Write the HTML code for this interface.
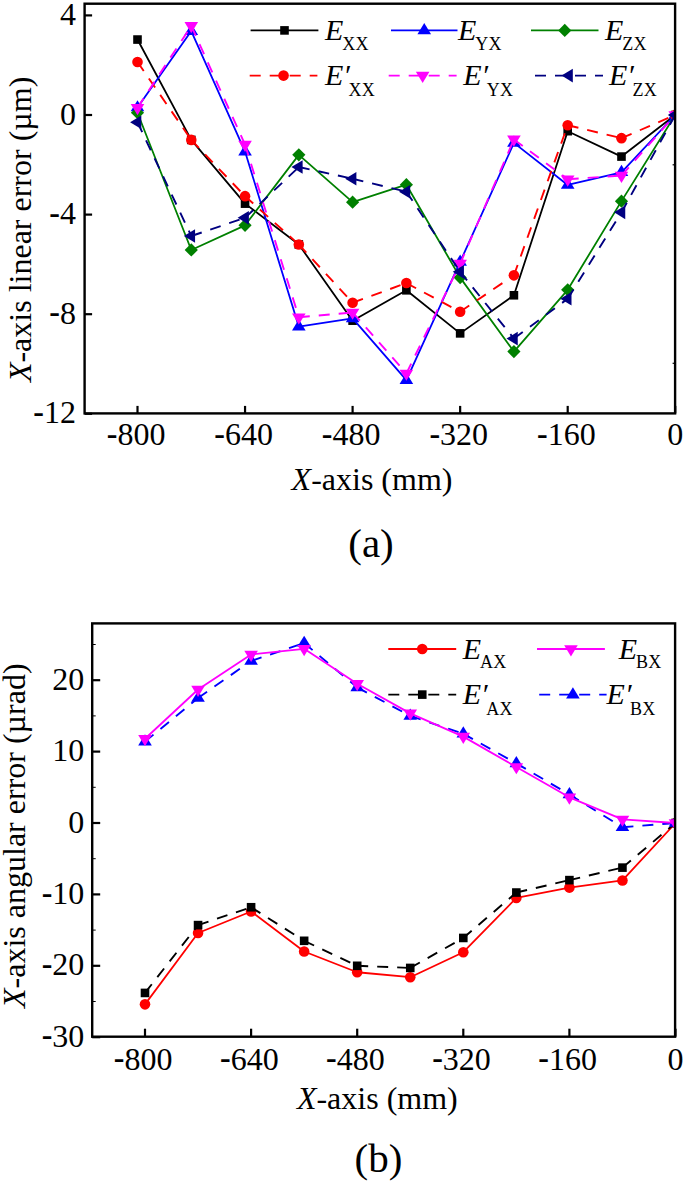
<!DOCTYPE html>
<html><head><meta charset="utf-8"><style>
html,body{margin:0;padding:0;background:#fff;overflow:hidden;}
svg{display:block;}
text{font-family:'Liberation Serif', serif;fill:#000;}
</style></head><body>
<svg width="685" height="1185" viewBox="0 0 685 1185">
<rect width="685" height="1185" fill="#fff"/>
<clipPath id="c1"><rect x="84.6" y="3.7" width="590.5" height="409.7"/></clipPath><g clip-path="url(#c1)">
<polyline points="137.5,39.55 191.28,139.9 245.05,203.64 298.82,244.48 352.6,320.67 406.38,290.3 460.15,333.37 513.92,295.28 567.7,131.19 621.48,156.58 675.25,115" fill="none" stroke="#000000" stroke-width="1.8" stroke-linejoin="round"/>
<rect x="133.2" y="35.25" width="8.6" height="8.6" fill="#000000"/>
<rect x="186.97" y="135.6" width="8.6" height="8.6" fill="#000000"/>
<rect x="240.75" y="199.34" width="8.6" height="8.6" fill="#000000"/>
<rect x="294.52" y="240.18" width="8.6" height="8.6" fill="#000000"/>
<rect x="348.3" y="316.37" width="8.6" height="8.6" fill="#000000"/>
<rect x="402.07" y="286" width="8.6" height="8.6" fill="#000000"/>
<rect x="455.85" y="329.07" width="8.6" height="8.6" fill="#000000"/>
<rect x="509.62" y="290.98" width="8.6" height="8.6" fill="#000000"/>
<rect x="563.4" y="126.89" width="8.6" height="8.6" fill="#000000"/>
<rect x="617.18" y="152.28" width="8.6" height="8.6" fill="#000000"/>
<rect x="670.95" y="110.7" width="8.6" height="8.6" fill="#000000"/>
<polyline points="137.5,107.53 191.28,31.09 245.05,151.6 298.82,326.65 352.6,318.43 406.38,380.19 460.15,261.91 513.92,142.89 567.7,184.97 621.48,172.27 675.25,115" fill="none" stroke="#0000ff" stroke-width="1.8" stroke-linejoin="round"/>
<path d="M137.5 100.13L144.3 111.33L130.7 111.33Z" fill="#0000ff"/>
<path d="M191.28 23.69L198.08 34.89L184.47 34.89Z" fill="#0000ff"/>
<path d="M245.05 144.2L251.85 155.4L238.25 155.4Z" fill="#0000ff"/>
<path d="M298.82 319.25L305.62 330.45L292.02 330.45Z" fill="#0000ff"/>
<path d="M352.6 311.03L359.4 322.23L345.8 322.23Z" fill="#0000ff"/>
<path d="M406.38 372.79L413.18 383.99L399.57 383.99Z" fill="#0000ff"/>
<path d="M460.15 254.51L466.95 265.71L453.35 265.71Z" fill="#0000ff"/>
<path d="M513.92 135.49L520.72 146.69L507.12 146.69Z" fill="#0000ff"/>
<path d="M567.7 177.57L574.5 188.77L560.9 188.77Z" fill="#0000ff"/>
<path d="M621.48 164.87L628.27 176.07L614.68 176.07Z" fill="#0000ff"/>
<path d="M675.25 107.6L682.05 118.8L668.45 118.8Z" fill="#0000ff"/>
<polyline points="137.5,112.76 191.28,249.96 245.05,225.31 298.82,154.84 352.6,202.15 406.38,184.72 460.15,277.6 513.92,351.55 567.7,289.8 621.48,201.15 675.25,115" fill="none" stroke="#008000" stroke-width="1.8" stroke-linejoin="round"/>
<path d="M137.5 106.16L144.1 112.76L137.5 119.36L130.9 112.76Z" fill="#008000"/>
<path d="M191.28 243.36L197.88 249.96L191.28 256.56L184.68 249.96Z" fill="#008000"/>
<path d="M245.05 218.71L251.65 225.31L245.05 231.91L238.45 225.31Z" fill="#008000"/>
<path d="M298.82 148.24L305.43 154.84L298.82 161.44L292.22 154.84Z" fill="#008000"/>
<path d="M352.6 195.55L359.2 202.15L352.6 208.75L346 202.15Z" fill="#008000"/>
<path d="M406.38 178.12L412.98 184.72L406.38 191.32L399.77 184.72Z" fill="#008000"/>
<path d="M460.15 271L466.75 277.6L460.15 284.2L453.55 277.6Z" fill="#008000"/>
<path d="M513.92 344.95L520.52 351.55L513.92 358.15L507.32 351.55Z" fill="#008000"/>
<path d="M567.7 283.2L574.3 289.8L567.7 296.4L561.1 289.8Z" fill="#008000"/>
<path d="M621.48 194.55L628.08 201.15L621.48 207.75L614.88 201.15Z" fill="#008000"/>
<path d="M675.25 108.4L681.85 115L675.25 121.6L668.65 115Z" fill="#008000"/>
<path d="M137.5 61.96L191.28 139.9M191.28 139.9L245.05 196.17M245.05 196.17L298.82 244.48M298.82 244.48L352.6 302.75M352.6 302.75L406.38 283.07M406.38 283.07L460.15 311.71M460.15 311.71L513.92 275.36M513.92 275.36L567.7 125.21M567.7 125.21L621.48 138.16M621.48 138.16L675.25 115" fill="none" stroke="#ff0000" stroke-width="1.9" stroke-dasharray="11 9"/>
<circle cx="137.5" cy="61.96" r="5.3" fill="#ff0000"/>
<circle cx="191.28" cy="139.9" r="5.3" fill="#ff0000"/>
<circle cx="245.05" cy="196.17" r="5.3" fill="#ff0000"/>
<circle cx="298.82" cy="244.48" r="5.3" fill="#ff0000"/>
<circle cx="352.6" cy="302.75" r="5.3" fill="#ff0000"/>
<circle cx="406.38" cy="283.07" r="5.3" fill="#ff0000"/>
<circle cx="460.15" cy="311.71" r="5.3" fill="#ff0000"/>
<circle cx="513.92" cy="275.36" r="5.3" fill="#ff0000"/>
<circle cx="567.7" cy="125.21" r="5.3" fill="#ff0000"/>
<circle cx="621.48" cy="138.16" r="5.3" fill="#ff0000"/>
<circle cx="675.25" cy="115" r="5.3" fill="#ff0000"/>
<path d="M137.5 107.78L191.28 25.86M191.28 25.86L245.05 144.63M245.05 144.63L298.82 317.19M298.82 317.19L352.6 312.46M352.6 312.46L406.38 373.46M406.38 373.46L460.15 263.65M460.15 263.65L513.92 139.4M513.92 139.4L567.7 179.24M567.7 179.24L621.48 175.51M621.48 175.51L675.25 115" fill="none" stroke="#ff00ff" stroke-width="1.9" stroke-dasharray="11 9"/>
<path d="M137.5 115.18L144.3 103.98L130.7 103.98Z" fill="#ff00ff"/>
<path d="M191.28 33.26L198.08 22.06L184.47 22.06Z" fill="#ff00ff"/>
<path d="M245.05 152.03L251.85 140.83L238.25 140.83Z" fill="#ff00ff"/>
<path d="M298.82 324.59L305.62 313.39L292.02 313.39Z" fill="#ff00ff"/>
<path d="M352.6 319.86L359.4 308.66L345.8 308.66Z" fill="#ff00ff"/>
<path d="M406.38 380.86L413.18 369.66L399.57 369.66Z" fill="#ff00ff"/>
<path d="M460.15 271.05L466.95 259.85L453.35 259.85Z" fill="#ff00ff"/>
<path d="M513.92 146.8L520.72 135.6L507.12 135.6Z" fill="#ff00ff"/>
<path d="M567.7 186.64L574.5 175.44L560.9 175.44Z" fill="#ff00ff"/>
<path d="M621.48 182.91L628.27 171.71L614.68 171.71Z" fill="#ff00ff"/>
<path d="M675.25 122.4L682.05 111.2L668.45 111.2Z" fill="#ff00ff"/>
<path d="M137.5 122.22L191.28 236.01M191.28 236.01L245.05 217.84M245.05 217.84L298.82 167.04M298.82 167.04L352.6 178.74M352.6 178.74L406.38 191.69M406.38 191.69L460.15 271.87M460.15 271.87L513.92 338.6M513.92 338.6L567.7 298.76M567.7 298.76L621.48 212.36M621.48 212.36L675.25 115" fill="none" stroke="#000080" stroke-width="1.9" stroke-dasharray="11 9"/>
<path d="M130.1 122.22L141.3 115.42L141.3 129.02Z" fill="#000080"/>
<path d="M183.88 236.01L195.08 229.21L195.08 242.81Z" fill="#000080"/>
<path d="M237.65 217.84L248.85 211.04L248.85 224.64Z" fill="#000080"/>
<path d="M291.43 167.04L302.62 160.24L302.62 173.84Z" fill="#000080"/>
<path d="M345.2 178.74L356.4 171.94L356.4 185.54Z" fill="#000080"/>
<path d="M398.98 191.69L410.18 184.89L410.18 198.49Z" fill="#000080"/>
<path d="M452.75 271.87L463.95 265.07L463.95 278.67Z" fill="#000080"/>
<path d="M506.52 338.6L517.72 331.8L517.72 345.4Z" fill="#000080"/>
<path d="M560.3 298.76L571.5 291.96L571.5 305.56Z" fill="#000080"/>
<path d="M614.08 212.36L625.27 205.56L625.27 219.16Z" fill="#000080"/>
<path d="M667.85 115L679.05 108.2L679.05 121.8Z" fill="#000080"/>
</g>
<rect x="84.6" y="3.7" width="590.5" height="409.7" fill="none" stroke="#000" stroke-width="2.4"/>
<line x1="84.6" y1="15.4" x2="92.1" y2="15.4" stroke="#000" stroke-width="2.2"/>
<text x="76" y="25" font-size="32" text-anchor="end">4</text>
<line x1="84.6" y1="115" x2="92.1" y2="115" stroke="#000" stroke-width="2.2"/>
<text x="76" y="124.6" font-size="32" text-anchor="end">0</text>
<line x1="84.6" y1="214.6" x2="92.1" y2="214.6" stroke="#000" stroke-width="2.2"/>
<text x="76" y="224.2" font-size="32" text-anchor="end"><tspan font-weight="bold" dy="-1.4">-</tspan><tspan dy="1.4">4</tspan></text>
<line x1="84.6" y1="314.2" x2="92.1" y2="314.2" stroke="#000" stroke-width="2.2"/>
<text x="76" y="323.8" font-size="32" text-anchor="end"><tspan font-weight="bold" dy="-1.4">-</tspan><tspan dy="1.4">8</tspan></text>
<line x1="84.6" y1="413.8" x2="92.1" y2="413.8" stroke="#000" stroke-width="2.2"/>
<text x="76" y="423.4" font-size="32" text-anchor="end"><tspan font-weight="bold" dy="-1.4">-</tspan><tspan dy="1.4">12</tspan></text>
<line x1="137.5" y1="413.4" x2="137.5" y2="405.9" stroke="#000" stroke-width="2.2"/>
<text x="136.1" y="445" font-size="32" text-anchor="middle"><tspan font-weight="bold" dy="-1.4">-</tspan><tspan dy="1.4">800</tspan></text>
<line x1="245.05" y1="413.4" x2="245.05" y2="405.9" stroke="#000" stroke-width="2.2"/>
<text x="243.65" y="445" font-size="32" text-anchor="middle"><tspan font-weight="bold" dy="-1.4">-</tspan><tspan dy="1.4">640</tspan></text>
<line x1="352.6" y1="413.4" x2="352.6" y2="405.9" stroke="#000" stroke-width="2.2"/>
<text x="351.2" y="445" font-size="32" text-anchor="middle"><tspan font-weight="bold" dy="-1.4">-</tspan><tspan dy="1.4">480</tspan></text>
<line x1="460.15" y1="413.4" x2="460.15" y2="405.9" stroke="#000" stroke-width="2.2"/>
<text x="458.75" y="445" font-size="32" text-anchor="middle"><tspan font-weight="bold" dy="-1.4">-</tspan><tspan dy="1.4">320</tspan></text>
<line x1="567.7" y1="413.4" x2="567.7" y2="405.9" stroke="#000" stroke-width="2.2"/>
<text x="566.3" y="445" font-size="32" text-anchor="middle"><tspan font-weight="bold" dy="-1.4">-</tspan><tspan dy="1.4">160</tspan></text>
<line x1="675.25" y1="413.4" x2="675.25" y2="405.9" stroke="#000" stroke-width="2.2"/>
<text x="675.25" y="445" font-size="32" text-anchor="middle">0</text>
<line x1="675.1" y1="164.8" x2="672.6" y2="164.8" stroke="#000" stroke-width="1.2"/>
<line x1="675.1" y1="363.3" x2="672.6" y2="363.3" stroke="#000" stroke-width="1.2"/>
<text x="372" y="490" font-size="32" text-anchor="middle"><tspan font-style="italic">X</tspan>-axis (mm)</text>
<text x="371" y="556.5" font-size="41" text-anchor="middle">(a)</text>
<text transform="translate(30.8,229.4) rotate(-90)" font-size="32" text-anchor="middle"><tspan font-style="italic">X</tspan>-axis linear error (µm)</text>
<line x1="250.6" y1="30.4" x2="318.4" y2="30.4" stroke="#000000" stroke-width="1.8"/>
<rect x="280.2" y="26.1" width="8.6" height="8.6" fill="#000000"/>
<text x="325" y="39.9" font-size="30" font-style="italic">E</text>
<text x="342.2" y="49.7" font-size="18" letter-spacing="0.3">XX</text>
<line x1="391" y1="30.4" x2="457.5" y2="30.4" stroke="#0000ff" stroke-width="1.8"/>
<path d="M424.25 23L431.05 34.2L417.45 34.2Z" fill="#0000ff"/>
<text x="458" y="39.9" font-size="30" font-style="italic">E</text>
<text x="475.2" y="49.7" font-size="18" letter-spacing="0.3">YX</text>
<line x1="531" y1="30.4" x2="598.5" y2="30.4" stroke="#008000" stroke-width="1.8"/>
<path d="M564.75 23.8L571.35 30.4L564.75 37L558.15 30.4Z" fill="#008000"/>
<text x="605" y="39.9" font-size="30" font-style="italic">E</text>
<text x="622.2" y="49.7" font-size="18" letter-spacing="0.3">ZX</text>
<line x1="249.7" y1="75.6" x2="317.4" y2="75.6" stroke="#ff0000" stroke-width="1.9" stroke-dasharray="11 9"/>
<circle cx="283.55" cy="75.6" r="5.3" fill="#ff0000"/>
<text x="325" y="85.1" font-size="30" font-style="italic">E′</text>
<text x="348.4" y="95.9" font-size="18" letter-spacing="0.3">XX</text>
<line x1="388.7" y1="75.6" x2="456.6" y2="75.6" stroke="#ff00ff" stroke-width="1.9" stroke-dasharray="11 9"/>
<path d="M422.65 83L429.45 71.8L415.85 71.8Z" fill="#ff00ff"/>
<text x="463.3" y="85.1" font-size="30" font-style="italic">E′</text>
<text x="486.7" y="95.9" font-size="18" letter-spacing="0.3">YX</text>
<line x1="535" y1="75.6" x2="603" y2="75.6" stroke="#000080" stroke-width="1.9" stroke-dasharray="11 9"/>
<path d="M561.6 75.6L572.8 68.8L572.8 82.4Z" fill="#000080"/>
<text x="609" y="85.1" font-size="30" font-style="italic">E′</text>
<text x="632.4" y="95.9" font-size="18" letter-spacing="0.3">ZX</text>
<clipPath id="c2"><rect x="92.2" y="623.4" width="582.9" height="413.3"/></clipPath><g clip-path="url(#c2)">
<polyline points="145,1004.36 198.05,932.96 251.1,911.54 304.15,951.52 357.2,972.23 410.25,977.22 463.3,952.23 516.35,897.97 569.4,887.62 622.45,880.48 675.5,823" fill="none" stroke="#ff0000" stroke-width="1.8" stroke-linejoin="round"/>
<circle cx="145" cy="1004.36" r="5.3" fill="#ff0000"/>
<circle cx="198.05" cy="932.96" r="5.3" fill="#ff0000"/>
<circle cx="251.1" cy="911.54" r="5.3" fill="#ff0000"/>
<circle cx="304.15" cy="951.52" r="5.3" fill="#ff0000"/>
<circle cx="357.2" cy="972.23" r="5.3" fill="#ff0000"/>
<circle cx="410.25" cy="977.22" r="5.3" fill="#ff0000"/>
<circle cx="463.3" cy="952.23" r="5.3" fill="#ff0000"/>
<circle cx="516.35" cy="897.97" r="5.3" fill="#ff0000"/>
<circle cx="569.4" cy="887.62" r="5.3" fill="#ff0000"/>
<circle cx="622.45" cy="880.48" r="5.3" fill="#ff0000"/>
<circle cx="675.5" cy="823" r="5.3" fill="#ff0000"/>
<path d="M145 992.93L198.05 925.1M198.05 925.1L251.1 907.25M251.1 907.25L304.15 940.81M304.15 940.81L357.2 965.8M357.2 965.8L410.25 967.94M410.25 967.94L463.3 937.95M463.3 937.95L516.35 892.54M516.35 892.54L569.4 880.12M569.4 880.12L622.45 867.62M622.45 867.62L675.5 823" fill="none" stroke="#000000" stroke-width="1.9" stroke-dasharray="11 9"/>
<rect x="140.7" y="988.63" width="8.6" height="8.6" fill="#000000"/>
<rect x="193.75" y="920.8" width="8.6" height="8.6" fill="#000000"/>
<rect x="246.8" y="902.95" width="8.6" height="8.6" fill="#000000"/>
<rect x="299.85" y="936.51" width="8.6" height="8.6" fill="#000000"/>
<rect x="352.9" y="961.5" width="8.6" height="8.6" fill="#000000"/>
<rect x="405.95" y="963.64" width="8.6" height="8.6" fill="#000000"/>
<rect x="459" y="933.65" width="8.6" height="8.6" fill="#000000"/>
<rect x="512.05" y="888.24" width="8.6" height="8.6" fill="#000000"/>
<rect x="565.1" y="875.82" width="8.6" height="8.6" fill="#000000"/>
<rect x="618.15" y="863.33" width="8.6" height="8.6" fill="#000000"/>
<rect x="671.2" y="818.7" width="8.6" height="8.6" fill="#000000"/>
<path d="M145 741.6L198.05 698.05M198.05 698.05L251.1 660.92M251.1 660.92L304.15 643.07M304.15 643.07L357.2 687.34M357.2 687.34L410.25 715.9M410.25 715.9L463.3 733.75M463.3 733.75L516.35 763.38M516.35 763.38L569.4 794.44M569.4 794.44L622.45 827.28M622.45 827.28L675.5 823" fill="none" stroke="#0000ff" stroke-width="1.9" stroke-dasharray="11 9"/>
<path d="M145 734.2L151.8 745.4L138.2 745.4Z" fill="#0000ff"/>
<path d="M198.05 690.65L204.85 701.85L191.25 701.85Z" fill="#0000ff"/>
<path d="M251.1 653.52L257.9 664.72L244.3 664.72Z" fill="#0000ff"/>
<path d="M304.15 635.67L310.95 646.87L297.35 646.87Z" fill="#0000ff"/>
<path d="M357.2 679.94L364 691.14L350.4 691.14Z" fill="#0000ff"/>
<path d="M410.25 708.5L417.05 719.7L403.45 719.7Z" fill="#0000ff"/>
<path d="M463.3 726.35L470.1 737.55L456.5 737.55Z" fill="#0000ff"/>
<path d="M516.35 755.98L523.15 767.18L509.55 767.18Z" fill="#0000ff"/>
<path d="M569.4 787.04L576.2 798.24L562.6 798.24Z" fill="#0000ff"/>
<path d="M622.45 819.88L629.25 831.08L615.65 831.08Z" fill="#0000ff"/>
<path d="M675.5 815.6L682.3 826.8L668.7 826.8Z" fill="#0000ff"/>
<polyline points="145,738.75 198.05,689.48 251.1,654.5 304.15,648.78 357.2,683.77 410.25,713.4 463.3,736.61 516.35,766.95 569.4,797.3 622.45,819.43 675.5,823" fill="none" stroke="#ff00ff" stroke-width="1.8" stroke-linejoin="round"/>
<path d="M145 746.15L151.8 734.95L138.2 734.95Z" fill="#ff00ff"/>
<path d="M198.05 696.88L204.85 685.68L191.25 685.68Z" fill="#ff00ff"/>
<path d="M251.1 661.9L257.9 650.7L244.3 650.7Z" fill="#ff00ff"/>
<path d="M304.15 656.18L310.95 644.98L297.35 644.98Z" fill="#ff00ff"/>
<path d="M357.2 691.17L364 679.97L350.4 679.97Z" fill="#ff00ff"/>
<path d="M410.25 720.8L417.05 709.6L403.45 709.6Z" fill="#ff00ff"/>
<path d="M463.3 744.01L470.1 732.81L456.5 732.81Z" fill="#ff00ff"/>
<path d="M516.35 774.35L523.15 763.15L509.55 763.15Z" fill="#ff00ff"/>
<path d="M569.4 804.7L576.2 793.5L562.6 793.5Z" fill="#ff00ff"/>
<path d="M622.45 826.83L629.25 815.63L615.65 815.63Z" fill="#ff00ff"/>
<path d="M675.5 830.4L682.3 819.2L668.7 819.2Z" fill="#ff00ff"/>
</g>
<rect x="92.2" y="623.4" width="582.9" height="413.3" fill="none" stroke="#000" stroke-width="2.4"/>
<line x1="92.2" y1="680.2" x2="100.2" y2="680.2" stroke="#000" stroke-width="2.2"/>
<text x="84.3" y="689.8" font-size="32" text-anchor="end">20</text>
<line x1="92.2" y1="751.6" x2="100.2" y2="751.6" stroke="#000" stroke-width="2.2"/>
<text x="84.3" y="761.2" font-size="32" text-anchor="end">10</text>
<line x1="92.2" y1="823" x2="100.2" y2="823" stroke="#000" stroke-width="2.2"/>
<text x="84.3" y="832.6" font-size="32" text-anchor="end">0</text>
<line x1="92.2" y1="894.4" x2="100.2" y2="894.4" stroke="#000" stroke-width="2.2"/>
<text x="84.3" y="904" font-size="32" text-anchor="end"><tspan font-weight="bold" dy="-1.4">-</tspan><tspan dy="1.4">10</tspan></text>
<line x1="92.2" y1="965.8" x2="100.2" y2="965.8" stroke="#000" stroke-width="2.2"/>
<text x="84.3" y="975.4" font-size="32" text-anchor="end"><tspan font-weight="bold" dy="-1.4">-</tspan><tspan dy="1.4">20</tspan></text>
<line x1="92.2" y1="1037.2" x2="100.2" y2="1037.2" stroke="#000" stroke-width="2.2"/>
<text x="84.3" y="1046.8" font-size="32" text-anchor="end"><tspan font-weight="bold" dy="-1.4">-</tspan><tspan dy="1.4">30</tspan></text>
<line x1="92.2" y1="644.5" x2="95.7" y2="644.5" stroke="#000" stroke-width="1"/>
<line x1="92.2" y1="715.9" x2="95.7" y2="715.9" stroke="#000" stroke-width="1"/>
<line x1="92.2" y1="787.3" x2="95.7" y2="787.3" stroke="#000" stroke-width="1"/>
<line x1="92.2" y1="858.7" x2="95.7" y2="858.7" stroke="#000" stroke-width="1"/>
<line x1="92.2" y1="930.1" x2="95.7" y2="930.1" stroke="#000" stroke-width="1"/>
<line x1="92.2" y1="1001.5" x2="95.7" y2="1001.5" stroke="#000" stroke-width="1"/>
<line x1="145" y1="1036.7" x2="145" y2="1028.7" stroke="#000" stroke-width="2.2"/>
<text x="143.2" y="1069.5" font-size="32" text-anchor="middle"><tspan font-weight="bold" dy="-1.4">-</tspan><tspan dy="1.4">800</tspan></text>
<line x1="251.1" y1="1036.7" x2="251.1" y2="1028.7" stroke="#000" stroke-width="2.2"/>
<text x="249.3" y="1069.5" font-size="32" text-anchor="middle"><tspan font-weight="bold" dy="-1.4">-</tspan><tspan dy="1.4">640</tspan></text>
<line x1="357.2" y1="1036.7" x2="357.2" y2="1028.7" stroke="#000" stroke-width="2.2"/>
<text x="355.4" y="1069.5" font-size="32" text-anchor="middle"><tspan font-weight="bold" dy="-1.4">-</tspan><tspan dy="1.4">480</tspan></text>
<line x1="463.3" y1="1036.7" x2="463.3" y2="1028.7" stroke="#000" stroke-width="2.2"/>
<text x="461.5" y="1069.5" font-size="32" text-anchor="middle"><tspan font-weight="bold" dy="-1.4">-</tspan><tspan dy="1.4">320</tspan></text>
<line x1="569.4" y1="1036.7" x2="569.4" y2="1028.7" stroke="#000" stroke-width="2.2"/>
<text x="567.6" y="1069.5" font-size="32" text-anchor="middle"><tspan font-weight="bold" dy="-1.4">-</tspan><tspan dy="1.4">160</tspan></text>
<line x1="675.5" y1="1036.7" x2="675.5" y2="1028.7" stroke="#000" stroke-width="2.2"/>
<text x="675.5" y="1069.5" font-size="32" text-anchor="middle">0</text>
<text x="377.3" y="1109.3" font-size="32" text-anchor="middle"><tspan font-style="italic">X</tspan>-axis (mm)</text>
<text x="378.4" y="1172" font-size="41" text-anchor="middle">(b)</text>
<text transform="translate(24.9,835.7) rotate(-90)" font-size="32" text-anchor="middle"><tspan font-style="italic">X</tspan>-axis angular error (µrad)</text>
<line x1="388.3" y1="649" x2="456.2" y2="649" stroke="#ff0000" stroke-width="1.8"/>
<circle cx="422.25" cy="649" r="5.3" fill="#ff0000"/>
<text x="462.8" y="658.5" font-size="30" font-style="italic">E</text>
<text x="480" y="668.3" font-size="18" letter-spacing="0.3">AX</text>
<line x1="537" y1="649" x2="604.9" y2="649" stroke="#ff00ff" stroke-width="1.8"/>
<path d="M570.95 656.4L577.75 645.2L564.15 645.2Z" fill="#ff00ff"/>
<text x="618.7" y="658.5" font-size="30" font-style="italic">E</text>
<text x="635.9" y="668.3" font-size="18" letter-spacing="0.3">BX</text>
<line x1="388.3" y1="694.6" x2="456.2" y2="694.6" stroke="#000000" stroke-width="1.9" stroke-dasharray="11 9"/>
<rect x="417.95" y="690.3" width="8.6" height="8.6" fill="#000000"/>
<text x="462.8" y="704.1" font-size="30" font-style="italic">E′</text>
<text x="486.2" y="714.9" font-size="18" letter-spacing="0.3">AX</text>
<line x1="539.2" y1="694.6" x2="606.6" y2="694.6" stroke="#0000ff" stroke-width="1.9" stroke-dasharray="11 9"/>
<path d="M572.9 687.2L579.7 698.4L566.1 698.4Z" fill="#0000ff"/>
<text x="606.6" y="704.1" font-size="30" font-style="italic">E′</text>
<text x="630" y="714.9" font-size="18" letter-spacing="0.3">BX</text>
</svg>
</body></html>
